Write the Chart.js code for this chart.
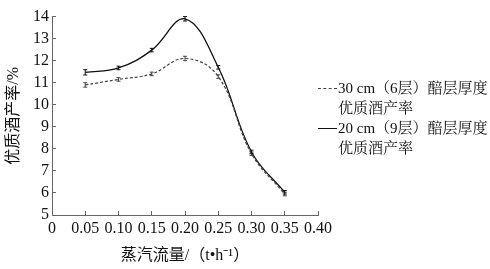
<!DOCTYPE html>
<html><head><meta charset="utf-8">
<script src="https://cdn.jsdelivr.net/npm/chart.js@4"></script>
<style>
html,body{margin:0;padding:0;background:#fff;}
#wrap{position:relative;width:490px;height:269px;}
#legend{position:absolute;left:318px;top:78px;font-family:"Liberation Serif","Noto Serif CJK SC","Noto Sans CJK SC",serif;font-size:15px;line-height:20px;color:#111;}
#legend .row{display:flex;align-items:center;white-space:nowrap;}
#legend .sw{display:inline-block;width:19px;height:0;margin-right:1px;}
#legend .ind{padding-left:20px;white-space:nowrap;}
</style></head>
<body><div id="wrap"><canvas id="c" width="490" height="269"></canvas>
<div id="legend">
<div class="row"><span class="sw" style="border-top:1.3px dashed #444"></span>30 cm（6层）醅层厚度</div>
<div class="ind">优质酒产率</div>
<div class="row"><span class="sw" style="border-top:1.3px solid #111"></span>20 cm（9层）醅层厚度</div>
<div class="ind">优质酒产率</div>
</div></div>
<script>
const steamFlow = [0.05, 0.10, 0.15, 0.20, 0.25, 0.30, 0.35];
const yield30cm = [10.9, 11.15, 11.4, 12.1, 11.28, 7.78, 5.95];
const yield20cm = [11.47, 11.67, 12.48, 13.9, 11.7, 7.86, 6.03];
const err30cm = [0.1, 0.08, 0.08, 0.1, 0.08, 0.08, 0.08];
const err20cm = [0.12, 0.08, 0.08, 0.1, 0.08, 0.08, 0.08];
const xTicks = [0, 0.05, 0.10, 0.15, 0.20, 0.25, 0.30, 0.35, 0.40];
const yTicks = [5, 6, 7, 8, 9, 10, 11, 12, 13, 14];

const font = "'Liberation Serif','Noto Sans CJK SC',serif";
const errorBars = {
  id: 'errorBars',
  afterDatasetsDraw(chart) {
    const ctx = chart.ctx, xs = chart.scales.x, ys = chart.scales.y;
    const sets = [[yield30cm, err30cm, '#444'], [yield20cm, err20cm, '#111']];
    ctx.save();
    ctx.lineWidth = 1;
    sets.forEach(([vals, errs, col]) => {
      ctx.strokeStyle = col;
      vals.forEach((v, i) => {
        const x = xs.getPixelForValue(steamFlow[i]);
        const y1 = ys.getPixelForValue(v + errs[i]);
        const y2 = ys.getPixelForValue(v - errs[i]);
        ctx.beginPath();
        ctx.moveTo(x, y1); ctx.lineTo(x, y2);
        ctx.moveTo(x - 2, y1); ctx.lineTo(x + 2, y1);
        ctx.moveTo(x - 2, y2); ctx.lineTo(x + 2, y2);
        ctx.stroke();
      });
    });
    ctx.restore();
  }
};

new Chart(document.getElementById('c'), {
  type: 'line',
  data: {
    datasets: [
      { label: '30 cm（6层）醅层厚度优质酒产率', data: steamFlow.map((x, i) => ({x, y: yield30cm[i]})),
        borderColor: '#444', borderWidth: 1.2, borderDash: [3, 2], pointRadius: 0, tension: 0.4, fill: false },
      { label: '20 cm（9层）醅层厚度优质酒产率', data: steamFlow.map((x, i) => ({x, y: yield20cm[i]})),
        borderColor: '#111', borderWidth: 1.3, pointRadius: 0, tension: 0.4, fill: false }
    ]
  },
  options: {
    responsive: false, animation: false, devicePixelRatio: 1,
    layout: { padding: { left: 0, right: 172, top: 9, bottom: 0 } },
    plugins: { legend: { display: false }, tooltip: { enabled: false } },
    scales: {
      x: {
        type: 'linear', min: 0, max: 0.4,
        afterBuildTicks: s => { s.ticks = xTicks.map(v => ({value: v})); },
        afterFit: s => { s.height = 54; },
        grid: { drawOnChartArea: false, tickLength: -4, color: '#666' },
        border: { color: '#666', width: 1 },
        ticks: { padding: 8, color: '#111', font: { family: font, size: 16 },
          callback: v => v === 0 ? '0' : v.toFixed(2), maxRotation: 0, autoSkip: false },
        title: { display: true, text: '蒸汽流量/（t•h⁻¹）', color: '#111', font: { family: font, size: 16 }, padding: { top: 0 } }
      },
      y: {
        min: 5, max: 14,
        afterBuildTicks: s => { s.ticks = yTicks.map(v => ({value: v})); },
        afterFit: s => { s.width = 52; },
        grid: { drawOnChartArea: false, tickLength: -4, color: '#666' },
        border: { color: '#666', width: 1 },
        ticks: { padding: 7, color: '#111', font: { family: font, size: 16 }, autoSkip: false },
        title: { display: true, text: '优质酒产率/%', color: '#111', font: { family: font, size: 16 }, padding: { bottom: 0 } }
      }
    }
  },
  plugins: [errorBars]
});
</script></body></html>
